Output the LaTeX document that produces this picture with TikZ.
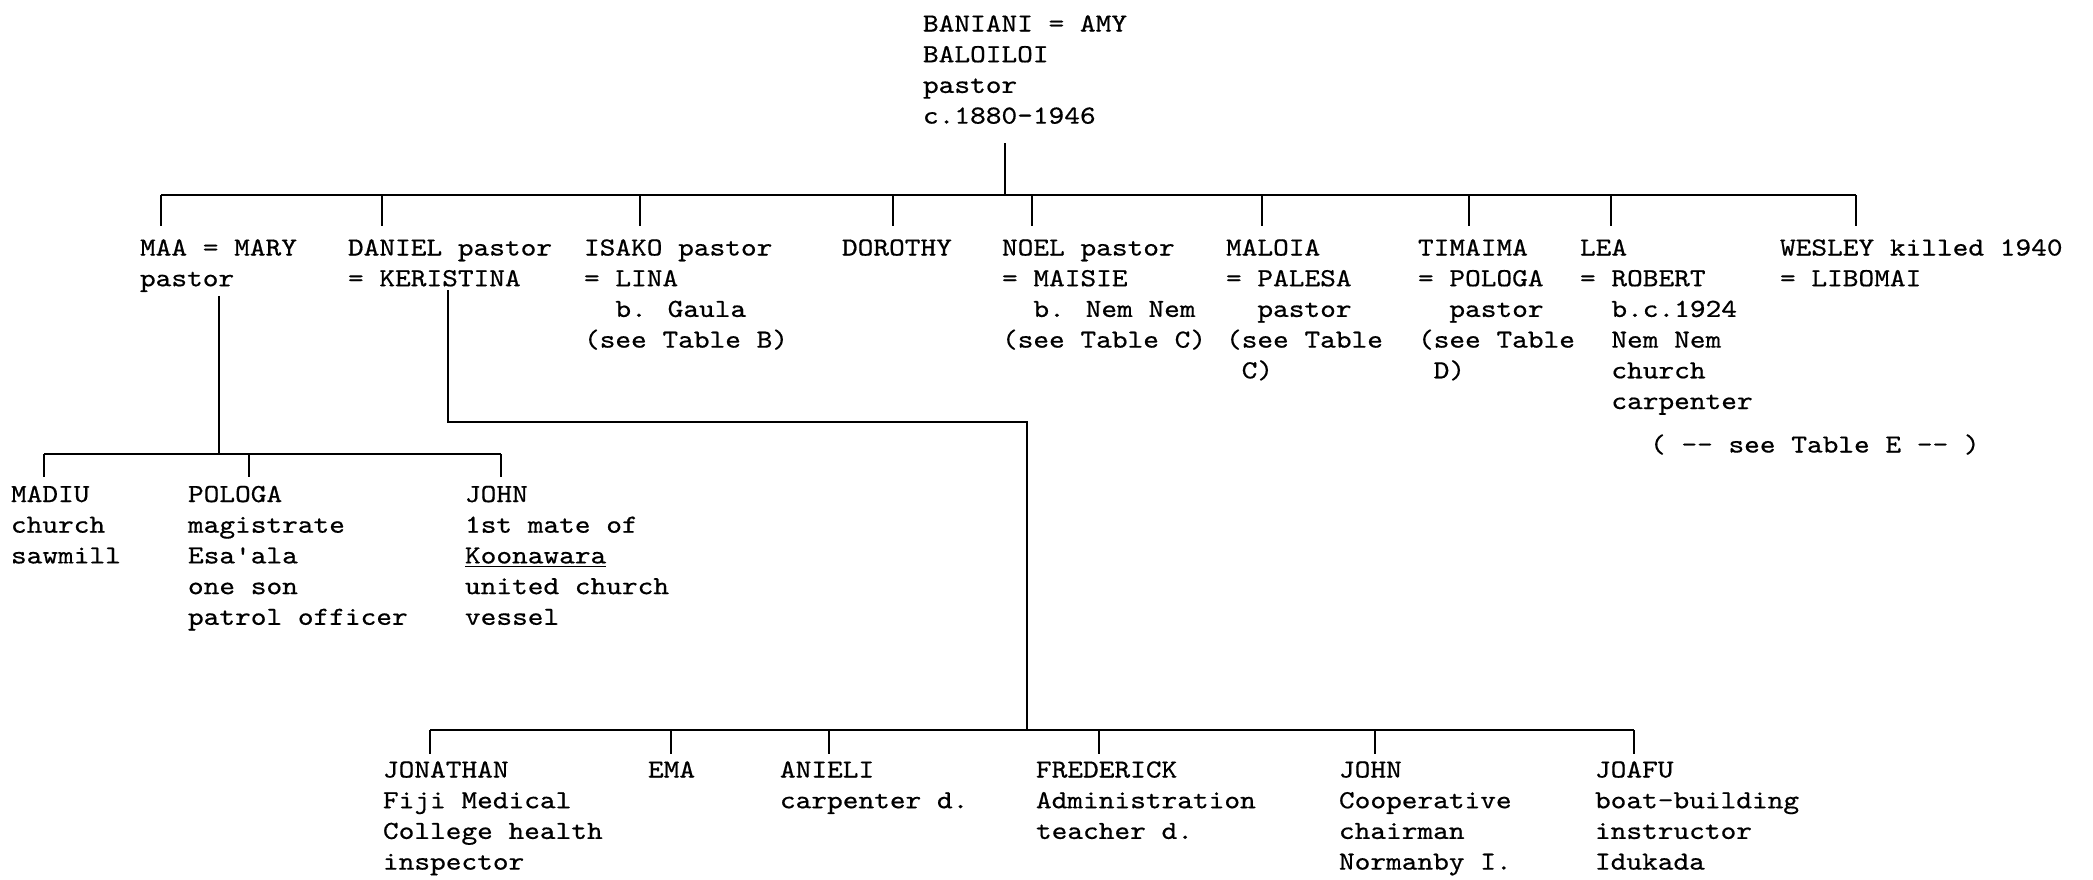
\documentclass[tikz,border=0pt]{standalone}
\usepackage{fontspec}
\newfontfamily\tw{lmmono10-regular}[Extension=.otf,FakeStretch=1.15,FakeBold=0.6]
\newcommand\firstln{\rule{0pt}{10pt}}
\begin{document}
\begin{tikzpicture}[x=0.5pt,y=-0.5pt,
  person/.style={anchor=north west,inner sep=0pt,outer sep=0pt,align=left,
    font=\tw\fontsize{13}{15.35}\selectfont},
  bar/.style={line width=1.4pt},
  link/.style={line width=1.1pt},
]
\useasboundingbox (0,0) rectangle (2093,879);
\fill[white] (0,0) rectangle (2093,879);

% generation 1
\node[person] (root) at (923,11.5) {\firstln BANIANI = AMY\\BALOILOI\\pastor\\c.1880-1946};

% generation 2
\node[person] (maa) at (140,235.5) {\firstln MAA = MARY\\pastor};
\node[person] (daniel) at (348,235.5) {\firstln DANIEL pastor\\= KERISTINA};
\node[person] (isako) at (584,235.5) {\firstln ISAKO pastor\\= LINA\\\hphantom{xx}b. Gaula\\(see Table B)};
\node[person] (dorothy) at (842,235.5) {\firstln DOROTHY};
\node[person] (noel) at (1002,235.5) {\firstln NOEL pastor\\= MAISIE\\\hphantom{xx}b. Nem Nem\\(see Table C)};
\node[person] (maloia) at (1226,235.5) {\firstln MALOIA\\= PALESA\\\hphantom{xx}pastor\\(see Table\\\hphantom{x}C)};
\node[person] (timaima) at (1418,235.5) {\firstln TIMAIMA\\= POLOGA\\\hphantom{xx}pastor\\(see Table\\\hphantom{x}D)};
\node[person] (lea) at (1580,235.5) {\firstln LEA\\= ROBERT\\\hphantom{xx}b.c.1924\\\hphantom{xx}Nem Nem\\\hphantom{xx}church\\\hphantom{xx}carpenter};
\node[person] (wesley) at (1780,235.5) {\firstln WESLEY killed 1940\\= LIBOMAI};
\node[person] (tablee) at (1650,432.5) {\firstln ( -{}- see Table E -{}- )};

% generation 3 (Maa)
\node[person] (madiu) at (11,482) {\firstln MADIU\\church\\sawmill};
\node[person] (pologa) at (188,482) {\firstln POLOGA\\magistrate\\Esa\char39 ala\\one son\\patrol officer};
\node[person] (johnm) at (465,482) {\firstln JOHN\\1st mate of\\\underline{Koonawara}\\united church\\vessel};

% generation 3 (Daniel)
\node[person] (jonathan) at (383,757.5) {\firstln JONATHAN\\Fiji Medical\\College health\\inspector};
\node[person] (ema) at (648,757.5) {\firstln EMA};
\node[person] (anieli) at (780,757.5) {\firstln ANIELI\\carpenter d.};
\node[person] (frederick) at (1036,757.5) {\firstln FREDERICK\\Administration\\teacher d.};
\node[person] (johnd) at (1339,757.5) {\firstln JOHN\\Cooperative\\chairman\\Normanby I.};
\node[person] (joafu) at (1595,757.5) {\firstln JOAFU\\boat-building\\instructor\\Idukada};

% coordinates
\coordinate (rootdrop) at (1005,143);
\coordinate (b1L) at (161,195);
\coordinate (b1R) at (1856,195);
\coordinate (t1dan) at (382,195);
\coordinate (t1isa) at (640,195);
\coordinate (t1dor) at (893,195);
\coordinate (t1noe) at (1032,195);
\coordinate (t1mal) at (1262,195);
\coordinate (t1tim) at (1469,195);
\coordinate (t1lea) at (1611,195);

\coordinate (b2m) at (219,454);
\coordinate (b2L) at (44,454);
\coordinate (b2R) at (501,454);
\coordinate (t2pol) at (249,454);

\coordinate (dj1) at (448,422);
\coordinate (dj2) at (1027,422);
\coordinate (b3m) at (1027,730);
\coordinate (b3L) at (430,730);
\coordinate (b3R) at (1634,730);
\coordinate (t3ema) at (671,730);
\coordinate (t3ani) at (829,730);
\coordinate (t3fre) at (1099,730);
\coordinate (t3joh) at (1375,730);

% generation 1 -> 2
\draw[link] (rootdrop) -- (rootdrop |- b1L);
\draw[bar] (b1L) -- (b1R);
\begin{scope}[link,shorten >=4.75pt]
\draw (b1L) -- (b1L |- maa.north);
\draw (t1dan) -- (t1dan |- daniel.north);
\draw (t1isa) -- (t1isa |- isako.north);
\draw (t1dor) -- (t1dor |- dorothy.north);
\draw (t1noe) -- (t1noe |- noel.north);
\draw (t1mal) -- (t1mal |- maloia.north);
\draw (t1tim) -- (t1tim |- timaima.north);
\draw (t1lea) -- (t1lea |- lea.north);
\draw (b1R) -- (b1R |- wesley.north);
\end{scope}

% Maa -> children
\draw[link,shorten <=2pt] (maa.south -| b2m) -- (b2m);
\draw[bar] (b2L) -- (b2R);
\begin{scope}[link,shorten >=2.5pt]
\draw (b2L) -- (b2L |- madiu.north);
\draw (t2pol) -- (t2pol |- pologa.north);
\draw (b2R) -- (b2R |- johnm.north);
\end{scope}

% Daniel -> children
\draw[link,shorten <=2pt] (daniel.south -| dj1) -- (dj1) -- (dj2) -- (b3m);
\draw[bar] (b3L) -- (b3R);
\begin{scope}[link,shorten >=1.75pt]
\draw (b3L) -- (b3L |- jonathan.north);
\draw (t3ema) -- (t3ema |- ema.north);
\draw (t3ani) -- (t3ani |- anieli.north);
\draw (t3fre) -- (t3fre |- frederick.north);
\draw (t3joh) -- (t3joh |- johnd.north);
\draw (b3R) -- (b3R |- joafu.north);
\end{scope}
\end{tikzpicture}
\end{document}
